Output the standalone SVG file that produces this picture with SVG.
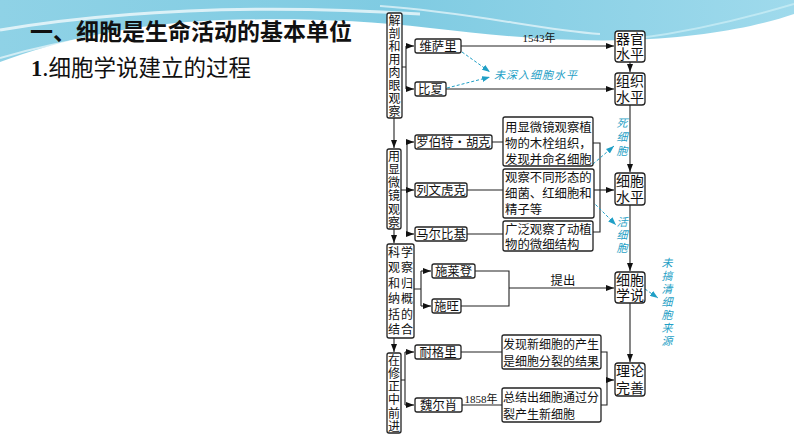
<svg xmlns="http://www.w3.org/2000/svg" width="794" height="447" viewBox="0 0 794 447">
<defs>
<linearGradient id="bg" x1="0" y1="0" x2="1" y2="0">
<stop offset="0" stop-color="#8fd2e6"/>
<stop offset="0.5" stop-color="#7fcbe2"/>
<stop offset="1" stop-color="#9fdaec"/>
</linearGradient>
<marker id="ah" viewBox="0 0 8 6" refX="8" refY="3" markerWidth="8" markerHeight="6" orient="auto" markerUnits="userSpaceOnUse">
<path d="M0,0 L8,3 L0,6 Z" fill="#111"/>
</marker>
<marker id="ac" viewBox="0 0 8 6" refX="8" refY="3" markerWidth="8" markerHeight="6" orient="auto" markerUnits="userSpaceOnUse">
<path d="M0,0 L8,3 L0,6 Z" fill="#1f9fc6"/>
</marker>
</defs>
<style>
.box{fill:#fff;stroke:#222;stroke-width:1.3}
.t{font-family:"Noto Sans CJK SC","Noto Sans",sans-serif;font-size:12.4px;fill:#111}
.tc{font-family:"Noto Sans CJK SC","Noto Sans",sans-serif;font-size:12.4px;fill:#111;text-anchor:middle}
.v{font-family:"Noto Sans CJK SC","Noto Sans",sans-serif;font-size:12px;fill:#111;text-anchor:middle}
.big{font-family:"Noto Sans CJK SC","Noto Sans",sans-serif;font-size:14px;fill:#111;text-anchor:middle}
.num{font-family:"Liberation Serif","Noto Sans CJK SC",serif;font-size:11px;fill:#111;text-anchor:middle}
.cy{font-family:"Noto Sans CJK SC","Noto Sans",sans-serif;font-size:11px;fill:#1f9fc6;font-style:italic;text-anchor:middle}
.cys{font-family:"Noto Sans CJK SC","Noto Sans",sans-serif;font-size:11px;fill:#1f9fc6;font-style:italic;text-anchor:start;letter-spacing:1px}
.ln{fill:none;stroke:#222;stroke-width:1.1}
.la{fill:none;stroke:#222;stroke-width:1.1;marker-end:url(#ah)}
.cd{fill:none;stroke:#1f9fc6;stroke-width:1;stroke-dasharray:3 2;marker-end:url(#ac)}
.cu{fill:none;stroke:#1f9fc6;stroke-width:1}
</style>
<rect width="794" height="447" fill="#fff"/>
<g id="background">
<path d="M0,0 H794 V14 C760,26 700,38 630,40 C560,42 500,36 430,28 C360,20 300,18 220,20 C130,24 60,40 0,62 Z" fill="url(#bg)"/>
<path d="M0,30 C120,10 260,4 420,14" fill="none" stroke="#fff" stroke-width="3" opacity="0.7"/>
<path d="M380,6 C470,12 540,30 600,34" fill="none" stroke="#fff" stroke-width="2" opacity="0.6"/>
<path d="M640,38 C700,30 760,14 794,4" fill="none" stroke="#c8ecf5" stroke-width="2" opacity="0.8"/>
<path d="M0,58 C60,40 140,28 230,24" fill="none" stroke="#fff" stroke-width="2" opacity="0.6"/>
</g>
<g id="title">
<text x="30" y="40" font-family="'Noto Sans CJK SC',sans-serif" font-size="23" font-weight="bold" fill="#111">一、细胞是生命活动的基本单位</text>
<text x="31" y="76" font-family="'Noto Sans CJK SC',sans-serif" font-size="22.5" fill="#111"><tspan font-family="'Liberation Serif',serif" font-weight="bold">1</tspan>.细胞学说建立的过程</text>
</g>
<g id="connectors">
<path class="la" d="M394,118 V148"/>
<path class="la" d="M394,229 V243"/>
<path class="la" d="M394,338 V352"/>
<path class="ln" d="M402,67 H406 M406,46 V89"/>
<path class="la" d="M406,46 H414"/>
<path class="la" d="M406,89 H414"/>
<path class="la" d="M461,46 H614"/>
<path class="la" d="M446,89 H614"/>
<path class="la" d="M630,62 V72"/>
<path class="la" d="M630,105 V172"/>
<path class="la" d="M630,205 V271"/>
<path class="la" d="M630,303 V362"/>
<path class="ln" d="M401,190 H407 M407,142 V234"/>
<path class="la" d="M407,142 H414"/>
<path class="la" d="M407,190 H414"/>
<path class="la" d="M407,234 H414"/>
<path class="ln" d="M492,142 H503 M467,190 H503 M467,234 H503"/>
<path class="ln" d="M593,143 H600 V232 H593"/>
<path class="la" d="M594,190 H614"/>
<path class="ln" d="M414,289 H421 M421,271 V306"/>
<path class="la" d="M421,271 H431"/>
<path class="la" d="M421,306 H431"/>
<path class="ln" d="M475,271 H509 V306 H461"/>
<path class="la" d="M509,288 H614"/>
<path class="ln" d="M401,380 H405 M405,352 V405"/>
<path class="la" d="M405,352 H414"/>
<path class="la" d="M405,405 H414"/>
<path class="ln" d="M461,352 H502 M462,405 H502"/>
<path class="ln" d="M601,352 H607 V405 H601"/>
<path class="la" d="M607,380 H614"/>
<path class="cd" d="M462,52 L490,72"/>
<path class="cd" d="M447,88 L490,77"/>
<path class="cu" d="M566,165 Q580,167 593,164"/>
<path class="cd" d="M593,164 L614,146"/>
<path class="cu" d="M505,201 Q550,204 592,201"/>
<path class="cd" d="M592,201 L616,225"/>
<path class="cd" d="M645,289 L658,298"/>
<text class="num" x="539" y="42">1543年</text>
<text class="tc" x="563" y="285" font-size="11">提出</text>
<text class="num" x="481" y="403">1858年</text>
</g>
<g id="n-jiepou">
<rect class="box" x="387" y="13" width="15" height="105" rx="2"/>
<text class="v"><tspan x="394.5" y="24.5">解</tspan><tspan x="394.5" y="37.6">剖</tspan><tspan x="394.5" y="50.7">和</tspan><tspan x="394.5" y="63.8">用</tspan><tspan x="394.5" y="76.9">肉</tspan><tspan x="394.5" y="90">眼</tspan><tspan x="394.5" y="103.1">观</tspan><tspan x="394.5" y="116.2">察</tspan></text>
</g>
<g id="n-xianweijing">
<rect class="box" x="387" y="149" width="14" height="80" rx="2"/>
<text class="v"><tspan x="394" y="160.5">用</tspan><tspan x="394" y="173.8">显</tspan><tspan x="394" y="187.1">微</tspan><tspan x="394" y="200.4">镜</tspan><tspan x="394" y="213.7">观</tspan><tspan x="394" y="227">察</tspan></text>
</g>
<g id="n-kexue">
<rect class="box" x="387" y="244" width="27" height="94" rx="2"/>
<text class="v"><tspan x="394" y="256.5">科</tspan><tspan x="407" y="256.5">学</tspan><tspan x="394" y="272">观</tspan><tspan x="407" y="272">察</tspan><tspan x="394" y="287.5">和</tspan><tspan x="407" y="287.5">归</tspan><tspan x="394" y="303">纳</tspan><tspan x="407" y="303">概</tspan><tspan x="394" y="318.5">括</tspan><tspan x="407" y="318.5">的</tspan><tspan x="394" y="334">结</tspan><tspan x="407" y="334">合</tspan></text>
</g>
<g id="n-xiuzheng">
<rect class="box" x="387" y="353" width="14" height="80" rx="2"/>
<text class="v"><tspan x="394" y="364.5">在</tspan><tspan x="394" y="377.8">修</tspan><tspan x="394" y="391.1">正</tspan><tspan x="394" y="404.4">中</tspan><tspan x="394" y="417.7">前</tspan><tspan x="394" y="431">进</tspan></text>
</g>
<g id="n-weisali"><rect class="box" x="415" y="39" width="46" height="14" rx="2"/><text class="tc" x="438" y="50.5">维萨里</text></g>
<g id="n-bixia"><rect class="box" x="415" y="82" width="31" height="14" rx="2"/><text class="tc" x="430.5" y="93.5">比夏</text></g>
<g id="n-huke"><rect class="box" x="415" y="135" width="77" height="14" rx="2"/><text class="tc" x="453.5" y="146.5">罗伯特·胡克</text></g>
<g id="n-liewen"><rect class="box" x="415" y="183" width="52" height="14" rx="2"/><text class="tc" x="441" y="194.5">列文虎克</text></g>
<g id="n-maer"><rect class="box" x="415" y="227" width="52" height="14" rx="2"/><text class="tc" x="441" y="238.5">马尔比基</text></g>
<g id="n-shilaideng"><rect class="box" x="432" y="264" width="43" height="14" rx="2"/><text class="tc" x="453.5" y="275.5">施莱登</text></g>
<g id="n-shiwang"><rect class="box" x="432" y="299" width="29" height="14" rx="2"/><text class="tc" x="446.5" y="310.5">施旺</text></g>
<g id="n-naigeli"><rect class="box" x="415" y="345" width="46" height="14" rx="2"/><text class="tc" x="438" y="356.5">耐格里</text></g>
<g id="n-weierxiao"><rect class="box" x="415" y="398" width="47" height="14" rx="2"/><text class="tc" x="438.5" y="409.5">魏尔肖</text></g>
<g id="d-huke"><rect class="box" x="503" y="117" width="90" height="49" rx="2"/>
<text class="t"><tspan x="505" y="131.5">用显微镜观察植</tspan><tspan x="505" y="147.5">物的木栓组织，</tspan><tspan x="505" y="163.5">发现并命名细胞</tspan></text></g>
<g id="d-liewen"><rect class="box" x="503" y="169" width="91" height="49" rx="2"/>
<text class="t"><tspan x="505" y="181.5">观察不同形态的</tspan><tspan x="505" y="197.5">细菌、红细胞和</tspan><tspan x="505" y="213.5">精子等</tspan></text></g>
<g id="d-maer"><rect class="box" x="503" y="221" width="90" height="30" rx="2"/>
<text class="t"><tspan x="505" y="233.5">广泛观察了动植</tspan><tspan x="505" y="249">物的微细结构</tspan></text></g>
<g id="d-naigeli"><rect class="box" x="502" y="335" width="99" height="34" rx="2"/>
<text class="t" style="font-size:12px"><tspan x="503" y="348.5">发现新细胞的产生</tspan><tspan x="503" y="365.5">是细胞分裂的结果</tspan></text></g>
<g id="d-weierxiao"><rect class="box" x="502" y="388" width="99" height="34" rx="2"/>
<text class="t" style="font-size:12px"><tspan x="503" y="401.5">总结出细胞通过分</tspan><tspan x="503" y="418.5">裂产生新细胞</tspan></text></g>
<g id="r-qiguan"><rect class="box" x="615" y="31" width="30" height="31" rx="3"/><text class="big"><tspan x="630" y="44">器官</tspan><tspan x="630" y="59">水平</tspan></text></g>
<g id="r-zuzhi"><rect class="box" x="615" y="73" width="30" height="32" rx="3"/><text class="big"><tspan x="630" y="86">组织</tspan><tspan x="630" y="102">水平</tspan></text></g>
<g id="r-xibao"><rect class="box" x="615" y="173" width="30" height="32" rx="3"/><text class="big"><tspan x="630" y="186">细胞</tspan><tspan x="630" y="202">水平</tspan></text></g>
<g id="r-xueshuo"><rect class="box" x="615" y="272" width="30" height="31" rx="3"/><text class="big"><tspan x="630" y="285">细胞</tspan><tspan x="630" y="300">学说</tspan></text></g>
<g id="r-lilun"><rect class="box" x="615" y="363" width="30" height="33" rx="3"/><text class="big"><tspan x="630" y="376">理论</tspan><tspan x="630" y="393">完善</tspan></text></g>
<g id="notes">
<text class="cys" x="494" y="79">未深入细胞水平</text>
<text class="cy"><tspan x="622" y="127">死</tspan><tspan x="622" y="141">细</tspan><tspan x="622" y="155">胞</tspan></text>
<text class="cy"><tspan x="622" y="226">活</tspan><tspan x="622" y="239">细</tspan><tspan x="622" y="252">胞</tspan></text>
<text class="cy"><tspan x="667" y="267">未</tspan><tspan x="667" y="280">搞</tspan><tspan x="667" y="293">清</tspan><tspan x="667" y="306">细</tspan><tspan x="667" y="319">胞</tspan><tspan x="667" y="332">来</tspan><tspan x="667" y="345">源</tspan></text>
</g>
</svg>
